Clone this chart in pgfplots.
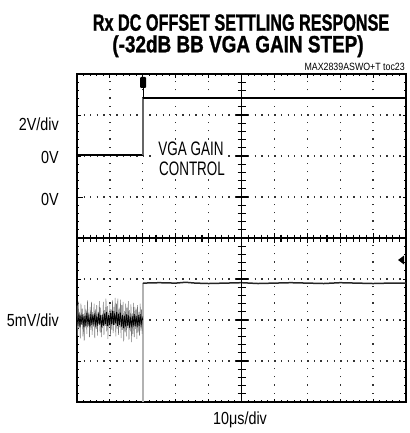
\documentclass[border=0pt]{standalone}
\usepackage{pgfplots}
\pgfplotsset{compat=1.18}
\usepackage{fontspec}
\setmainfont{Liberation Sans}
\newfontfamily\titlefont{Liberation Sans}[BoldFeatures={FakeBold=1.3}]
\usepackage{graphicx}
\newcommand{\lab}[2]{\scalebox{0.82}[1]{\fontsize{#1}{#1}\selectfont #2}}
\begin{document}
\begin{tikzpicture}[x=1pt,y=1pt]
\useasboundingbox (0,0) rectangle (409,-433);
\begin{axis}[
  at={(77pt,-402pt)}, anchor=south west,
  scale only axis, width=329pt, height=328pt,
  xmin=0, xmax=10, ymin=0, ymax=8,
  xtick={0,...,10}, ytick={0,...,8},
  xticklabels={}, yticklabels={},
  minor x tick num=4, minor y tick num=4,
  tick align=inside, tick pos=both,
  major tick length=3.5pt, minor tick length=2.2pt,
  every tick/.style={black, line width=0.9pt},
  grid=major,
  x grid style={black!80, line width=1.3pt, dash pattern=on 1.3pt off 6.9pt},
  y grid style={black!80, line width=1.3pt, dash pattern=on 1.3pt off 5.28pt},
  axis line style={line width=2.8pt},
  clip=false,
]
% VGA gain control
\addplot[black, line width=1.7pt] coordinates {(0,6.02) (2,6.02)};
\addplot[black!60, line width=1.7pt] coordinates {(2,6.02) (2,7.41)};
\addplot[black, line width=1.7pt] coordinates {(2,7.41) (10,7.41)};
% output transient (gray)
\addplot[black!30, line width=1.8pt] coordinates {(2,0) (2,2.9)};
% output noise before step: light spread
\addplot[black!55, line width=0.5pt] coordinates {
(0.00,2.35) (0.02,1.62) (0.04,2.45) (0.06,1.80) (0.08,2.20) (0.10,1.55)
(0.12,2.40) (0.14,1.90) (0.16,2.28) (0.18,1.60) (0.20,2.10) (0.22,1.50)
(0.24,2.36) (0.26,1.82) (0.28,2.25) (0.30,1.66) (0.32,2.48) (0.34,1.86)
(0.36,2.18) (0.38,1.58) (0.40,2.32) (0.42,1.76) (0.44,2.44) (0.46,1.64)
(0.48,2.14) (0.50,1.84) (0.52,2.40) (0.54,1.56) (0.56,2.26) (0.58,1.78)
(0.60,2.36) (0.62,1.62) (0.64,2.20) (0.66,1.90) (0.68,2.46) (0.70,1.70)
(0.72,2.30) (0.74,1.58) (0.76,2.12) (0.78,1.80) (0.80,2.44) (0.82,1.64)
(0.84,2.24) (0.86,1.86) (0.88,2.52) (0.90,1.72) (0.92,2.34) (0.94,1.54)
(0.96,2.18) (0.98,1.84) (1.00,2.38) (1.02,1.60) (1.04,2.26) (1.06,1.76)
(1.08,2.48) (1.10,1.68) (1.12,2.32) (1.14,1.88) (1.16,2.54) (1.18,1.60)
(1.20,2.40) (1.22,1.78) (1.24,2.52) (1.26,1.64) (1.28,2.28) (1.30,1.82)
(1.32,2.50) (1.34,1.56) (1.36,2.36) (1.38,1.76) (1.40,2.44) (1.42,1.48)
(1.44,2.22) (1.46,1.70) (1.48,2.40) (1.50,1.60) (1.52,2.30) (1.54,1.80)
(1.56,2.46) (1.58,1.52) (1.60,2.24) (1.62,1.72) (1.64,2.38) (1.66,1.46)
(1.68,2.16) (1.70,1.66) (1.72,2.42) (1.74,1.58) (1.76,2.32) (1.78,1.78)
(1.80,2.28) (1.82,1.54) (1.84,2.36) (1.86,1.70) (1.88,2.20) (1.90,1.62)
(1.92,2.40) (1.94,1.74) (1.96,2.26) (1.98,1.66) (2.00,2.10)};
% output noise: dark core
\addplot[black, line width=0.7pt] coordinates {
(0.00,2.10) (0.03,1.86) (0.06,2.16) (0.09,1.84) (0.12,2.12) (0.15,1.88)
(0.18,2.14) (0.21,1.82) (0.24,2.10) (0.27,1.86) (0.30,2.18) (0.33,1.90)
(0.36,2.08) (0.39,1.84) (0.42,2.14) (0.45,1.88) (0.48,2.12) (0.51,1.92)
(0.54,2.16) (0.57,1.84) (0.60,2.10) (0.63,1.86) (0.66,2.18) (0.69,1.88)
(0.72,2.12) (0.75,1.82) (0.78,2.08) (0.81,1.86) (0.84,2.16) (0.87,1.90)
(0.90,2.20) (0.93,1.86) (0.96,2.12) (0.99,1.88) (1.02,2.18) (1.05,1.90)
(1.08,2.22) (1.11,1.88) (1.14,2.16) (1.17,1.92) (1.20,2.20) (1.23,1.86)
(1.26,2.14) (1.29,1.88) (1.32,2.18) (1.35,1.84) (1.38,2.12) (1.41,1.80)
(1.44,2.10) (1.47,1.84) (1.50,2.14) (1.53,1.86) (1.56,2.12) (1.59,1.80)
(1.62,2.08) (1.65,1.82) (1.68,2.10) (1.71,1.84) (1.74,2.14) (1.77,1.86)
(1.80,2.10) (1.83,1.82) (1.86,2.12) (1.89,1.86) (1.92,2.14) (1.95,1.88)
(1.98,2.06) (2.00,2.00)};
% output after step
\addplot[black!85, line width=1.5pt] coordinates {
(2.00,2.90) (2.50,2.91) (3.00,2.90) (3.30,2.92) (3.60,2.90) (4.00,2.89)
(4.50,2.90) (5.00,2.91) (5.50,2.89) (6.00,2.90) (6.50,2.91) (7.00,2.90)
(7.50,2.89) (8.00,2.91) (8.50,2.90) (9.00,2.89) (9.50,2.90) (10.00,2.90)};
\end{axis}
% centre crosshair with fine ticks
\draw[line width=1.4pt] (77,-238) -- (406,-238);
\draw[line width=1.4pt] (241.5,-74) -- (241.5,-402);
\foreach \i in {1,...,49} {\draw[line width=1.1pt] (77+\i*6.58,-234.5) -- (77+\i*6.58,-241.5);}
\foreach \i in {1,...,9} {\draw[line width=1.1pt] (77+\i*32.9,-233) -- (77+\i*32.9,-243);}
\foreach \j in {1,...,39} {\draw[line width=1.1pt] (237.5,-402+\j*8.2) -- (245.5,-402+\j*8.2);}
\foreach \j in {1,...,7} {\draw[line width=1.1pt] (235.5,-402+\j*41) -- (247.5,-402+\j*41);}
% markers
\draw[line width=1pt] (143,-86) -- (143,-98);
\fill[black, rounded corners=1pt] (140,-77) rectangle (146,-88);
\fill[black] (398,-260) -- (404,-255.5) -- (404,-264.5) -- cycle;
\draw[line width=1pt] (78,-197) -- (83,-197);
% titles
\node[anchor=base, inner sep=0] at (241,-30.7) {\scalebox{0.69}[1]{\fontsize{23.5}{24}\titlefont\bfseries Rx DC OFFSET SETTLING RESPONSE}};
\node[anchor=base, inner sep=0] at (238,-52.3) {\scalebox{0.805}[1]{\fontsize{23.5}{24}\titlefont\bfseries (-32dB BB VGA GAIN STEP)}};
\node[anchor=base east, inner sep=0] at (405,-71) {\scalebox{0.84}[1]{\fontsize{10.5}{11}\selectfont MAX2839ASWO+T toc23}};
% channel labels
\node[anchor=base east, inner sep=0] at (59,-130) {\lab{17.5}{2V/div}};
\node[anchor=base east, inner sep=0] at (59,-163) {\lab{17.5}{0V}};
\node[anchor=base east, inner sep=0] at (59,-205) {\lab{17.5}{0V}};
\node[anchor=base east, inner sep=0] at (59,-326) {\lab{17.5}{5mV/div}};
\node[anchor=base, fill=white, inner sep=2pt] at (191,-155.7) {\scalebox{0.69}[1]{\fontsize{19.5}{20}\selectfont VGA GAIN}};
\node[anchor=base, fill=white, inner sep=2pt] at (192,-175) {\scalebox{0.69}[1]{\fontsize{19.5}{20}\selectfont CONTROL}};
\node[anchor=base, inner sep=0] at (240,-424) {\lab{17.5}{10μs/div}};
\end{tikzpicture}
\end{document}
